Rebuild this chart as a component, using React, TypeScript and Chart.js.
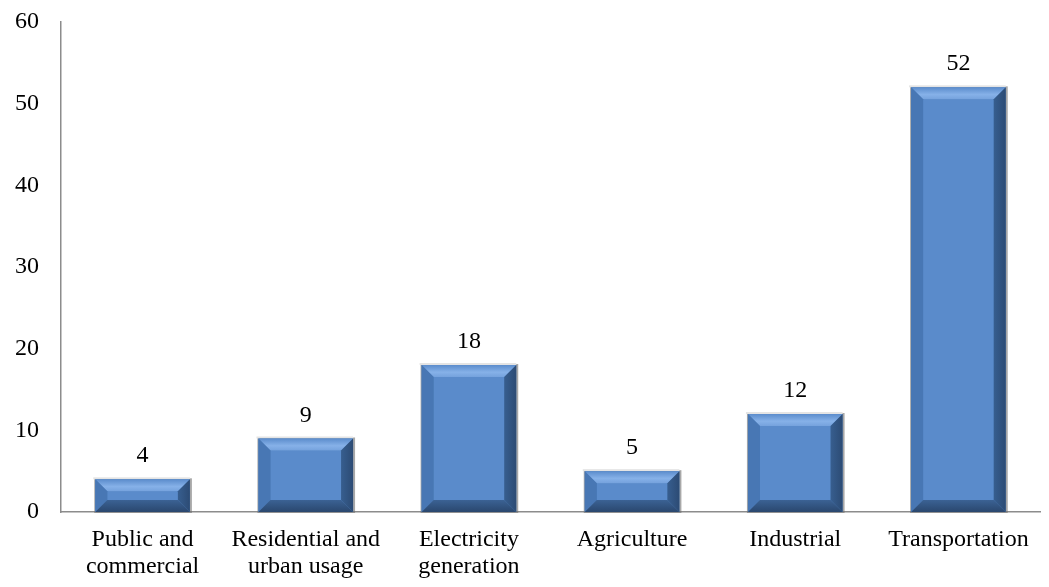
import React, { useEffect, useRef } from "react";
import { Chart, registerables } from "chart.js";

Chart.register(...registerables);

const categories: string[][] = [
  ["Public and", "commercial"],
  ["Residential and", "urban usage"],
  ["Electricity", "generation"],
  ["Agriculture"],
  ["Industrial"],
  ["Transportation"],
];
const values: number[] = [4, 9, 18, 5, 12, 52];
const yTicks: number[] = [0, 10, 20, 30, 40, 50, 60];

const FONT = "'Liberation Serif', 'Times New Roman', serif";

const bevelPlugin = {
  id: "bevel",
  afterDatasetsDraw(chart: any) {
    const ctx = chart.ctx as CanvasRenderingContext2D;
    const meta = chart.getDatasetMeta(0);
    meta.data.forEach((bar: any, i: number) => {
      const p = bar.getProps(["x", "y", "base", "width"], true);
      const x0 = p.x - p.width / 2;
      const x1 = p.x + p.width / 2;
      const y0 = Math.min(p.y, p.base);
      const y1 = Math.max(p.y, p.base);
      const h = y1 - y0;
      const b = Math.min(12, h / 2 - 2);
      ctx.save();
      // outer shadow / outline
      ctx.fillStyle = "rgba(110,110,110,0.6)";
      ctx.fillRect(x0 - 1, y0 - 1, x1 - x0 + 3, h + 2);
      ctx.fillStyle = "#e4e4e4";
      ctx.fillRect(x0 - 2, y0 - 2, x1 - x0 + 2, 2);
      // center face
      ctx.fillStyle = "#4f81bd";
      ctx.fillRect(x0, y0, x1 - x0, h);
      ctx.fillStyle = "#5a8bcb";
      ctx.fillRect(x0 + b, y0 + b, x1 - x0 - 2 * b, h - 2 * b);
      const poly = (pts: number[][], color: string | CanvasGradient) => {
        ctx.beginPath();
        ctx.moveTo(pts[0][0], pts[0][1]);
        for (let k = 1; k < pts.length; k++) ctx.lineTo(pts[k][0], pts[k][1]);
        ctx.closePath();
        ctx.fillStyle = color;
        ctx.fill();
      };
      // top
      const gt = ctx.createLinearGradient(0, y0, 0, y0 + b);
      gt.addColorStop(0, "#5b8ccc");
      gt.addColorStop(0.6, "#86b1e8");
      gt.addColorStop(1, "#75a2dd");
      poly([[x0, y0], [x1, y0], [x1 - b, y0 + b], [x0 + b, y0 + b]], gt);
      // left
      poly([[x0, y0], [x0 + b, y0 + b], [x0 + b, y1 - b], [x0, y1]], "#4877b4");
      // right
      const gr = ctx.createLinearGradient(x1 - b, 0, x1, 0);
      gr.addColorStop(0, "#375e8f");
      gr.addColorStop(1, "#2c4b74");
      poly([[x1, y0], [x1, y1], [x1 - b, y1 - b], [x1 - b, y0 + b]], gr);
      // bottom
      const gb = ctx.createLinearGradient(0, y1 - b, 0, y1);
      gb.addColorStop(0, "#3b6294");
      gb.addColorStop(1, "#2a476e");
      poly([[x0, y1], [x0 + b, y1 - b], [x1 - b, y1 - b], [x1, y1]], gb);
      // value label
      ctx.fillStyle = "#000";
      ctx.font = `24px ${FONT}`;
      ctx.textAlign = "center";
      ctx.textBaseline = "alphabetic";
      ctx.fillText(String(values[i]), p.x, y0 - 17);
      ctx.restore();
    });
  },
};

export default function App() {
  const ref = useRef<HTMLCanvasElement>(null);
  useEffect(() => {
    if (!ref.current) return;
    const chart = new Chart(ref.current, {
      type: "bar",
      data: {
        labels: categories,
        datasets: [
          {
            data: values,
            backgroundColor: "rgba(0,0,0,0)",
            borderWidth: 0,
            categoryPercentage: 1,
            barPercentage: 0.58,
          },
        ],
      },
      options: {
        responsive: false,
        animation: false,
        layout: { padding: { top: 22, right: 9, left: 0, bottom: 0 } },
        plugins: { legend: { display: false }, tooltip: { enabled: false } },
        scales: {
          y: {
            min: 0,
            max: 60,
            afterBuildTicks: (s: any) => {
              s.ticks = yTicks.map((v) => ({ value: v }));
            },
            afterFit: (s: any) => {
              s.width = 61;
              s.paddingTop = 0;
              s.paddingBottom = 0;
            },
            grid: { display: false, drawTicks: false },
            border: { display: true, color: "#8c8c8c", width: 1.5 },
            ticks: {
              padding: 22,
              color: "#000",
              font: { family: FONT, size: 24 },
            },
          },
          x: {
            afterFit: (s: any) => {
              s.height = 75;
              s.paddingLeft = 0;
              s.paddingRight = 0;
            },
            grid: { display: false, drawTicks: false },
            border: { display: true, color: "#8c8c8c", width: 1.5 },
            ticks: {
              padding: 15,
              color: "#000",
              maxRotation: 0,
              autoSkip: false,
              font: { family: FONT, size: 24, lineHeight: 1.1 },
            },
          },
        },
      },
      plugins: [bevelPlugin],
    });
    return () => chart.destroy();
  }, []);
  return (
    <div style={{ position: "absolute", left: 0, top: 0, width: 1049, height: 587, background: "#fff" }}>
      <canvas ref={ref} width={1049} height={587} />
    </div>
  );
}
